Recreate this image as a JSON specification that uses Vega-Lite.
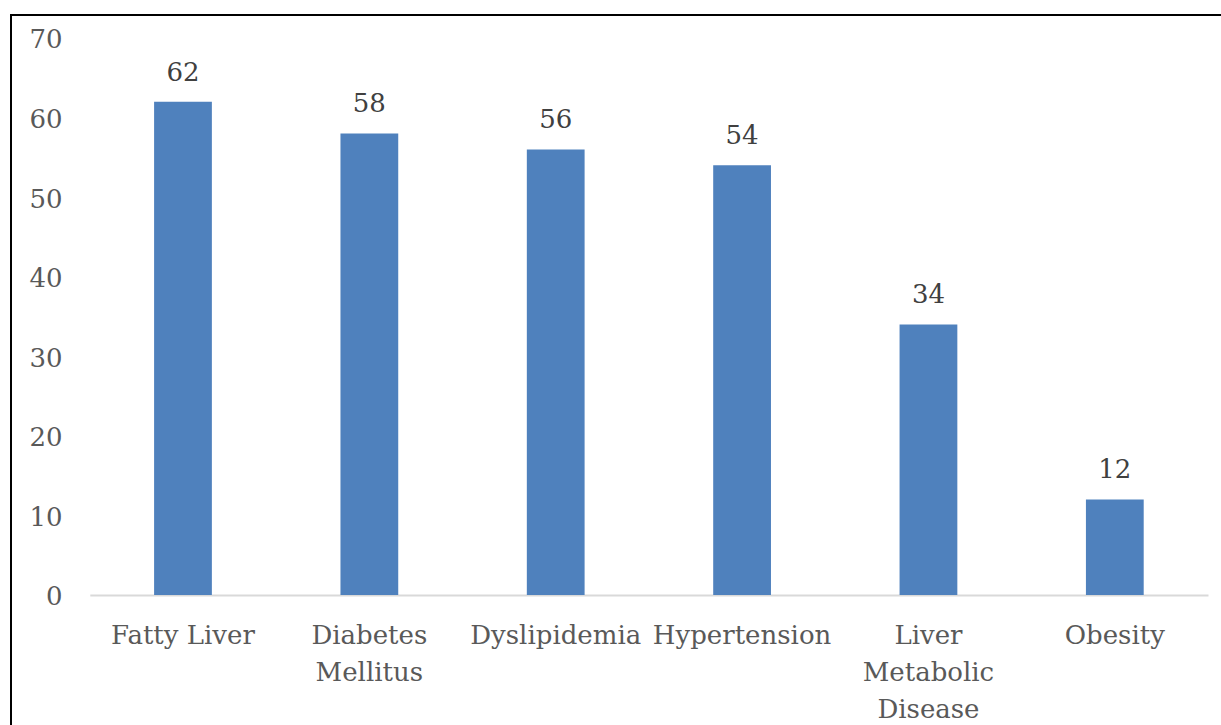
{
  "$schema": "https://vega.github.io/schema/vega-lite/v6.json",
  "autosize": {"type": "none"},
  "padding": {"left": 11, "top": 15, "right": 0, "bottom": 0},
  "width": 1215,
  "height": 715,
  "background": "white",
  "config": {
    "view": {"stroke": "#000000", "strokeWidth": 2},
    "font": "DejaVu Serif"
  },
  "data": {
    "values": [
      {"cat": "Fatty Liver", "value": 62},
      {"cat": "Diabetes Mellitus", "value": 58},
      {"cat": "Dyslipidemia", "value": 56},
      {"cat": "Hypertension", "value": 54},
      {"cat": "Liver Metabolic Disease", "value": 34},
      {"cat": "Obesity", "value": 12}
    ]
  },
  "encoding": {
    "x": {
      "field": "cat",
      "type": "nominal",
      "sort": null,
      "scale": {"range": [78.8, 1197], "paddingInner": 0.69, "paddingOuter": 0.345},
      "axis": {
        "title": null,
        "orient": "bottom",
        "offset": -135,
        "ticks": false,
        "domainColor": "#d9d9d9",
        "domainWidth": 2,
        "labelAngle": 0,
        "labelFont": "DejaVu Serif",
        "labelFontSize": 26,
        "labelColor": "#595959",
        "labelPadding": 27,
        "labelLineHeight": 37,
        "labelExpr": "datum.label == 'Diabetes Mellitus' ? ['Diabetes', 'Mellitus'] : datum.label == 'Liver Metabolic Disease' ? ['Liver', 'Metabolic', 'Disease'] : datum.label"
      }
    },
    "y": {
      "field": "value",
      "type": "quantitative",
      "scale": {"domain": [-16.97, 72.89], "nice": false, "zero": false},
      "axis": {
        "title": null,
        "orient": "left",
        "offset": -60,
        "values": [0, 10, 20, 30, 40, 50, 60, 70],
        "domain": false,
        "ticks": false,
        "grid": false,
        "labelPadding": 9,
        "labelOffset": 2,
        "labelFont": "DejaVu Serif",
        "labelFontSize": 26,
        "labelColor": "#595959"
      }
    }
  },
  "layer": [
    {"mark": {"type": "bar", "color": "#4F81BD"}, "encoding": {"y2": {"datum": 0}}},
    {
      "mark": {"type": "text", "baseline": "alphabetic", "dy": -21, "font": "DejaVu Serif", "fontSize": 26, "color": "#404040"},
      "encoding": {"text": {"field": "value", "type": "quantitative"}}
    }
  ]
}
